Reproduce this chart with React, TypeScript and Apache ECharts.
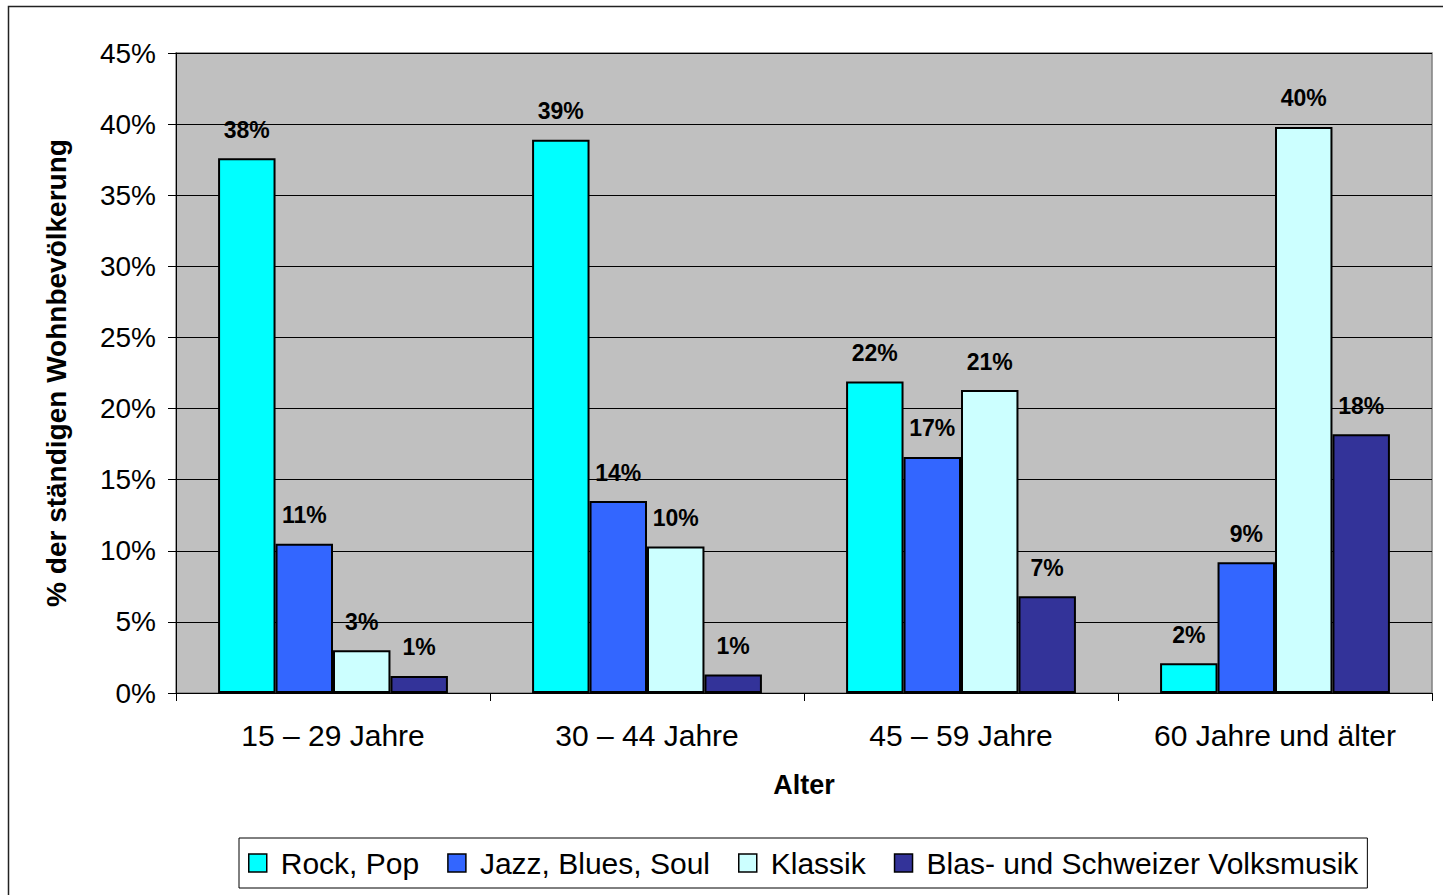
import React, { useEffect, useRef } from "react";
import * as echarts from "echarts";

const categories = ["15 – 29 Jahre", "30 – 44 Jahre", "45 – 59 Jahre", "60 Jahre und älter"];
const seriesNames = ["Rock, Pop", "Jazz, Blues, Soul", "Klassik", "Blas- und Schweizer Volksmusik"];
const rockPop = [37.6, 38.9, 21.9, 2.1];
const jazz = [10.5, 13.5, 16.6, 9.2];
const klassik = [3.0, 10.3, 21.3, 39.8];
const blas = [1.2, 1.3, 6.8, 18.2];
const colors = ["#00FFFF", "#3366FF", "#CCFFFF", "#333399"];
const yTicks = [0, 5, 10, 15, 20, 25, 30, 35, 40, 45];

const FONT = "'Liberation Sans', Arial, sans-serif";

export default function App() {
  const ref = useRef<HTMLDivElement>(null);
  useEffect(() => {
    if (!ref.current) return;
    const chart = echarts.init(ref.current, undefined, { renderer: "svg" });
    const data = [rockPop, jazz, klassik, blas];
    chart.setOption({
      animation: false,
      backgroundColor: "#ffffff",
      textStyle: { fontFamily: FONT },
      graphic: [
        {
          type: "rect",
          shape: { x: 8.5, y: 6.5, width: 1445, height: 900 },
          style: { fill: "none", stroke: "#222", lineWidth: 1.5 },
          z: -10,
        },
      ],
      grid: {
        left: 176,
        top: 53,
        width: 1256,
        height: 640,
        show: true,
        backgroundColor: "#C0C0C0",
        borderColor: "#808080",
        borderWidth: 1.5,
      },
      legend: {
        left: 239,
        top: 838,
        itemWidth: 18,
        itemHeight: 18,
        itemGap: 28,
        padding: [10, 9, 10, 9],
        borderColor: "#000",
        borderWidth: 1,
        backgroundColor: "#fff",
        textStyle: { fontSize: 30, color: "#000", fontFamily: FONT, padding: [0, 0, 0, 9] },
        icon: "rect",
        data: seriesNames.map((n, i) => ({
          name: n,
          itemStyle: { color: colors[i], borderColor: "#000", borderWidth: 1.5 },
        })),
      },
      xAxis: {
        type: "category",
        data: categories,
        name: "Alter",
        nameLocation: "middle",
        nameGap: 78,
        nameTextStyle: { fontSize: 27, fontWeight: "bold", color: "#000", fontFamily: FONT },
        axisLine: { show: true, lineStyle: { color: "#000", width: 1 } },
        axisTick: { show: true, length: 8, interval: 0, lineStyle: { color: "#000" } },
        axisLabel: { fontSize: 30, color: "#000", margin: 27, interval: 0, fontFamily: FONT },
        splitLine: { show: false },
      },
      yAxis: {
        type: "value",
        min: 0,
        max: 45,
        interval: 5,
        name: "% der ständigen Wohnbevölkerung",
        nameLocation: "middle",
        nameGap: 106,
        nameTextStyle: { fontSize: 28, fontWeight: "bold", color: "#000", fontFamily: FONT },
        axisLine: { show: true, lineStyle: { color: "#000", width: 1 } },
        axisTick: { show: true, length: 8, inside: false, lineStyle: { color: "#000" } },
        axisLabel: {
          fontSize: 28,
          color: "#000",
          margin: 20,
          fontFamily: FONT,
          formatter: (v: number) => (yTicks.includes(v) ? v + "%" : ""),
        },
        splitLine: { show: true, lineStyle: { color: "#000", width: 1 } },
      },
      series: seriesNames.map((n, i) => ({
        name: n,
        type: "bar",
        data: data[i],
        barGap: "0%",
        barCategoryGap: "26.8%",
        itemStyle: { color: colors[i], borderColor: "#000", borderWidth: 2 },
        label: {
          show: true,
          position: "top",
          distance: 17,
          fontSize: 23,
          fontWeight: "bold",
          color: "#000",
          fontFamily: FONT,
          formatter: (p: any) => Math.round(p.value) + "%",
        },
      })),
    });
    return () => chart.dispose();
  }, []);
  return (
    <div
      ref={ref}
      style={{ position: "fixed", left: 0, top: 0, width: 1443, height: 895 }}
    />
  );
}
